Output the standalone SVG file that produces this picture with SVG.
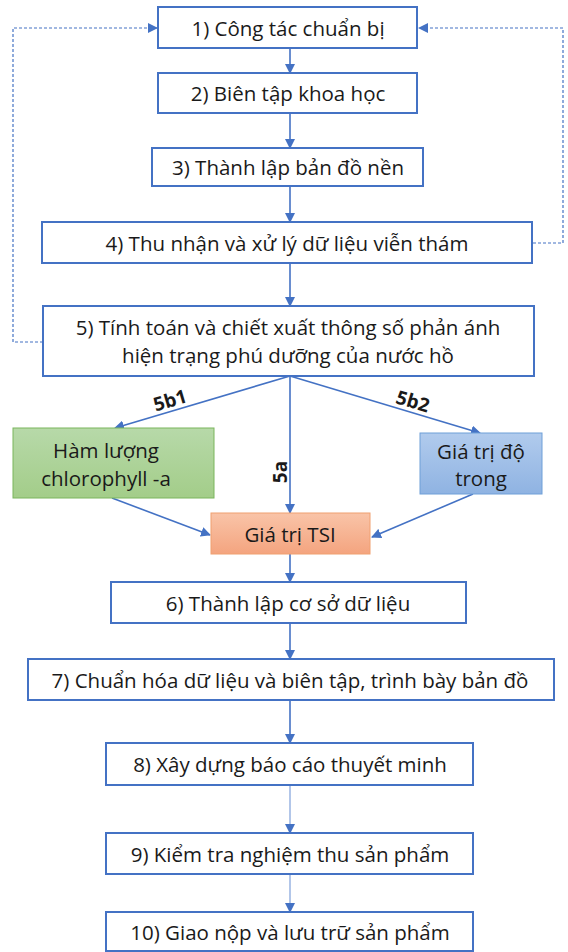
<svg xmlns="http://www.w3.org/2000/svg" width="568" height="952" viewBox="0 0 568 952">
<style>
.box{fill:#ffffff;stroke:#4472C4;stroke-width:2}
.t{font-family:"Open Sans","Liberation Sans",sans-serif;font-size:20.5px;fill:#1a1a1a;text-anchor:middle;dominant-baseline:central}
.lb{font-family:"Open Sans","Liberation Sans",sans-serif;font-size:19px;font-weight:bold;fill:#1a1a1a;text-anchor:middle;dominant-baseline:central}
.c{fill:none;stroke:#4472C4;stroke-width:1.6}
.cl{fill:none;stroke:#7FA0DA;stroke-width:1.2}
.d{fill:none;stroke:#4472C4;stroke-width:1.2;stroke-dasharray:3 2}
</style>
<defs>
<marker id="ah" markerWidth="10" markerHeight="10" refX="9" refY="5" orient="auto" markerUnits="userSpaceOnUse">
<path d="M0,0 L10,5 L0,10 z" fill="#4472C4"/>
</marker>
<linearGradient id="gG" x1="0" y1="0" x2="0" y2="1"><stop offset="0" stop-color="#b7d9a9"/><stop offset="1" stop-color="#a3cd89"/></linearGradient>
<linearGradient id="gB" x1="0" y1="0" x2="0" y2="1"><stop offset="0" stop-color="#b1cbed"/><stop offset="1" stop-color="#8fb3e2"/></linearGradient>
<linearGradient id="gO" x1="0" y1="0" x2="0" y2="1"><stop offset="0" stop-color="#f9c4a8"/><stop offset="1" stop-color="#f4a47f"/></linearGradient>
</defs>
<g id="connectors">
<line class="c" x1="290" y1="48" x2="290" y2="73" marker-end="url(#ah)"/>
<line class="c" x1="290" y1="113" x2="290" y2="148" marker-end="url(#ah)"/>
<line class="c" x1="290" y1="186" x2="290" y2="222" marker-end="url(#ah)"/>
<line class="c" x1="290" y1="263" x2="290" y2="306" marker-end="url(#ah)"/>
<line class="c" x1="290" y1="376" x2="115" y2="428" marker-end="url(#ah)"/>
<line class="c" x1="290" y1="376" x2="480" y2="433" marker-end="url(#ah)"/>
<line class="c" x1="290" y1="376" x2="290" y2="513" marker-end="url(#ah)"/>
<line class="c" x1="112" y1="498" x2="210" y2="535" marker-end="url(#ah)"/>
<line class="c" x1="473" y1="494" x2="372" y2="537" marker-end="url(#ah)"/>
<line class="c" x1="290" y1="554" x2="290" y2="582" marker-end="url(#ah)"/>
<line class="c" x1="290" y1="623" x2="290" y2="659" marker-end="url(#ah)"/>
<line class="c" x1="290" y1="700" x2="290" y2="743" marker-end="url(#ah)"/>
<line class="cl" x1="290" y1="785" x2="290" y2="833" marker-end="url(#ah)"/>
<line class="cl" x1="290" y1="874" x2="290" y2="912" marker-end="url(#ah)"/>
<polyline class="d" points="43,342 13,342 13,28 157,28" marker-end="url(#ah)"/>
<polyline class="d" points="533,243 563,243 563,28 419,28" marker-end="url(#ah)"/>
<text class="lb" transform="translate(170,400) rotate(-16.5)">5b1</text>
<text class="lb" transform="translate(413,401) rotate(16.5)">5b2</text>
<text class="lb" transform="translate(280,472) rotate(-90)">5a</text>
</g>
<g id="n1"><rect class="box" x="158" y="7" width="259" height="41"/><text class="t" x="288" y="28">1) Công tác chuẩn bị</text></g>
<g id="n2"><rect class="box" x="158" y="73" width="259" height="40"/><text class="t" x="288" y="93">2) Biên tập khoa học</text></g>
<g id="n3"><rect class="box" x="152" y="148" width="271" height="38"/><text class="t" x="288" y="167">3) Thành lập bản đồ nền</text></g>
<g id="n4"><rect class="box" x="42" y="222" width="490" height="41"/><text class="t" x="287" y="243">4) Thu nhận và xử lý dữ liệu viễn thám</text></g>
<g id="n5"><rect class="box" x="43" y="306" width="491" height="70"/><text class="t" x="288" y="327">5) Tính toán và chiết xuất thông số phản ánh</text><text class="t" x="288" y="355">hiện trạng phú dưỡng của nước hồ</text></g>
<g id="n5b1"><rect x="13" y="428" width="201" height="70" fill="url(#gG)" stroke="#7ab55c" stroke-width="1"/><text class="t" x="106" y="450">Hàm lượng</text><text class="t" x="106" y="478">chlorophyll -a</text></g>
<g id="n5b2"><rect x="420" y="433" width="122" height="61" fill="url(#gB)" stroke="#6f9fd8" stroke-width="1"/><text class="t" x="481" y="451">Giá trị độ</text><text class="t" x="481" y="478">trong</text></g>
<g id="ntsi"><rect x="211" y="513" width="159" height="41" fill="url(#gO)" stroke="#f0a070" stroke-width="1"/><text class="t" x="290" y="534">Giá trị TSI</text></g>
<g id="n6"><rect class="box" x="111" y="582" width="355" height="41"/><text class="t" x="288" y="603">6) Thành lập cơ sở dữ liệu</text></g>
<g id="n7"><rect class="box" x="28" y="659" width="526" height="41"/><text class="t" x="290" y="680">7) Chuẩn hóa dữ liệu và biên tập, trình bày bản đồ</text></g>
<g id="n8"><rect class="box" x="106" y="743" width="367" height="42"/><text class="t" x="290" y="764">8) Xây dựng báo cáo thuyết minh</text></g>
<g id="n9"><rect class="box" x="106" y="833" width="367" height="41"/><text class="t" x="290" y="854">9) Kiểm tra nghiệm thu sản phẩm</text></g>
<g id="n10"><rect class="box" x="106" y="912" width="367" height="39"/><text class="t" x="290" y="932">10) Giao nộp và lưu trữ sản phẩm</text></g>
</svg>
